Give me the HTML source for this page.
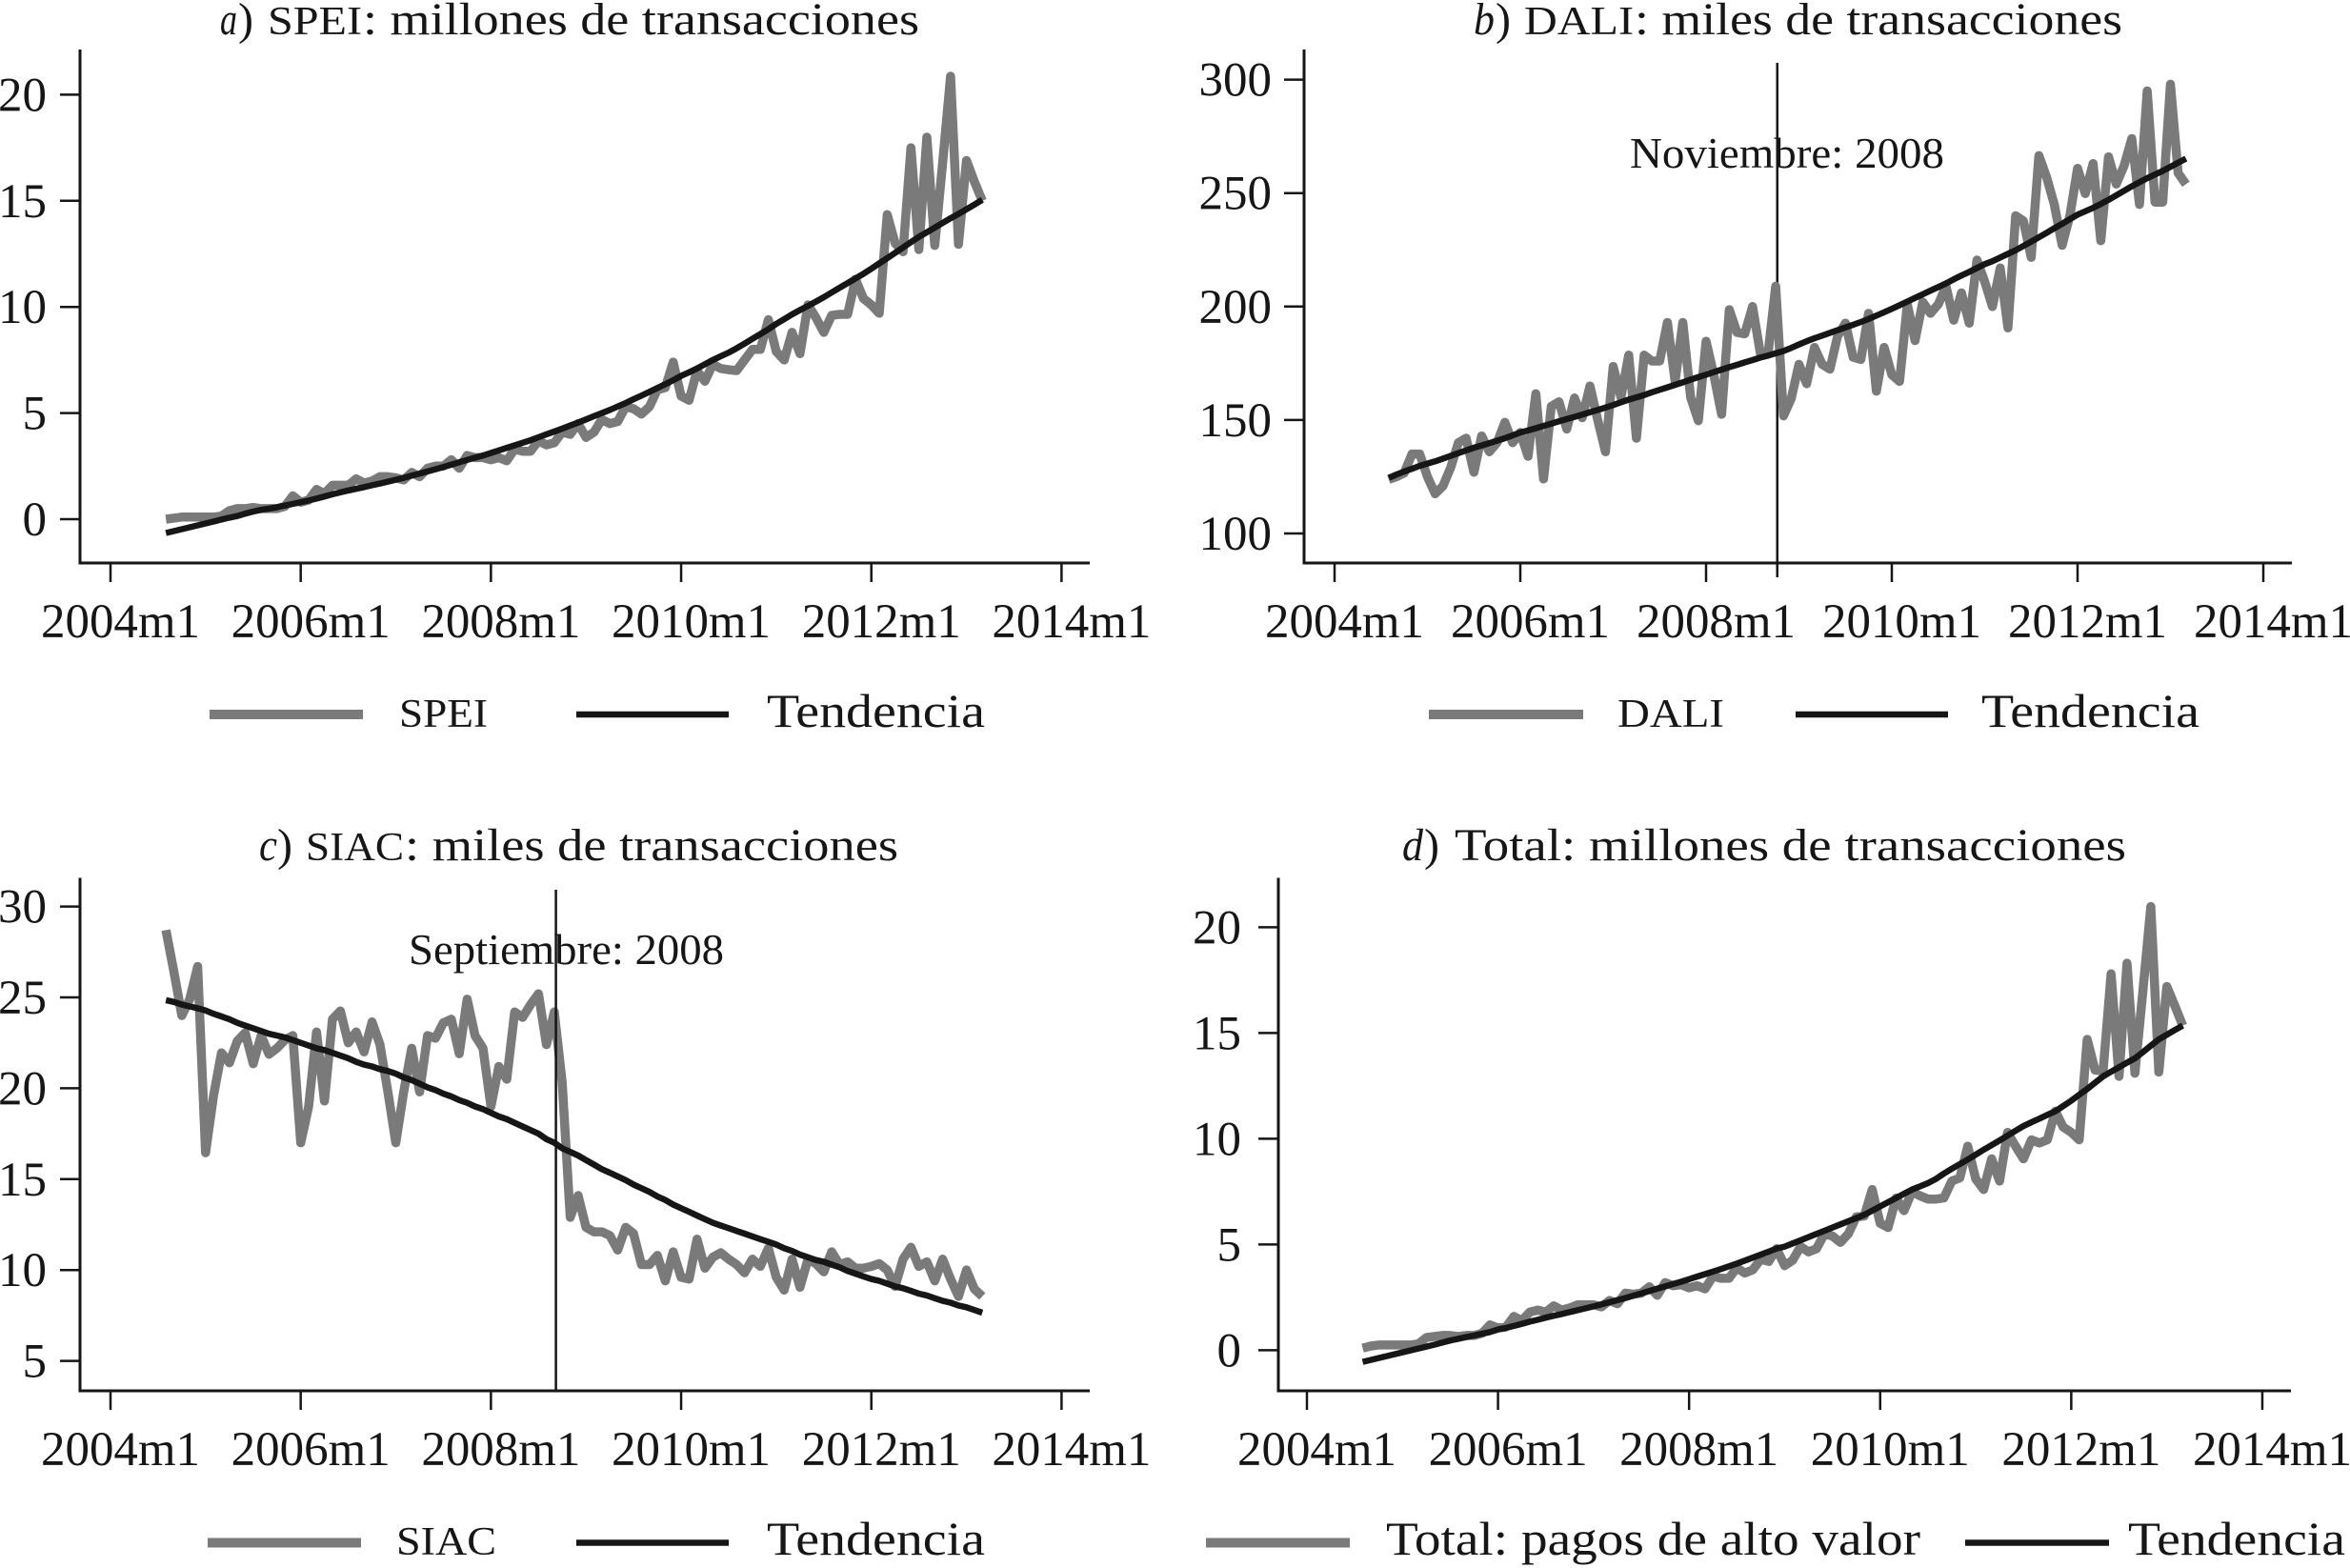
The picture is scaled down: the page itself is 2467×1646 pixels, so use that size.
<!DOCTYPE html>
<html lang="es">
<head>
<meta charset="utf-8">
<title>Transacciones de pagos de alto valor</title>
<style>
html,body{margin:0;padding:0;background:#fff;}
svg{display:block;}
text{font-family:"Liberation Serif",serif;fill:#161616;}
.t{font-size:48px;}
.s{font-size:42px;}
.l{font-size:50px;}
.n{font-size:46px;}
.i{font-style:italic;}
</style>
</head>
<body>
<svg id="chart" width="2467" height="1646" viewBox="0 0 2467 1646" xmlns="http://www.w3.org/2000/svg">
<rect width="2467" height="1646" fill="#fff"/>

<g>
<text class="t i" x="231" y="36" textLength="18" lengthAdjust="spacingAndGlyphs">a</text><text class="t" x="250" y="36">)</text>
<text class="s" x="281" y="36" textLength="99" lengthAdjust="spacingAndGlyphs">SPEI</text>
<text class="t" x="381" y="36" textLength="584" lengthAdjust="spacingAndGlyphs">: millones de transacciones</text>
</g>
<g>
<text class="t i" x="1547" y="36" textLength="22" lengthAdjust="spacingAndGlyphs">b</text><text class="t" x="1570" y="36">)</text>
<text class="s" x="1600" y="36" textLength="115" lengthAdjust="spacingAndGlyphs">DALI</text>
<text class="t" x="1716" y="36" textLength="512" lengthAdjust="spacingAndGlyphs">: miles de transacciones</text>
</g>
<g>
<text class="t i" x="272" y="903" textLength="19" lengthAdjust="spacingAndGlyphs">c</text><text class="t" x="291" y="903">)</text>
<text class="s" x="321" y="903" textLength="103" lengthAdjust="spacingAndGlyphs">SIAC</text>
<text class="t" x="425" y="903" textLength="518" lengthAdjust="spacingAndGlyphs">: miles de transacciones</text>
</g>
<g>
<text class="t i" x="1472" y="903" textLength="22" lengthAdjust="spacingAndGlyphs">d</text><text class="t" x="1495" y="903">)</text>
<text class="t" x="1527" y="903" textLength="705" lengthAdjust="spacingAndGlyphs">Total: millones de transacciones</text>
</g>

<text class="n" x="1711" y="176" textLength="330" lengthAdjust="spacingAndGlyphs">Noviembre: 2008</text>
<text class="n" x="429" y="1012" textLength="331" lengthAdjust="spacingAndGlyphs">Septiembre: 2008</text>

<g id="plots"></g>

<g>
<line x1="220" x2="381" y1="750" y2="750" stroke="#7a7a7a" stroke-width="10"/>
<text class="s" x="419" y="763" textLength="93" lengthAdjust="spacingAndGlyphs">SPEI</text>
<line x1="605" x2="765" y1="750" y2="750" stroke="#161616" stroke-width="6.5"/>
<text class="l" x="805" y="763" textLength="229" lengthAdjust="spacingAndGlyphs">Tendencia</text>
</g>
<g>
<line x1="1500" x2="1662" y1="750" y2="750" stroke="#7a7a7a" stroke-width="10"/>
<text class="s" x="1698" y="763" textLength="112" lengthAdjust="spacingAndGlyphs">DALI</text>
<line x1="1885" x2="2045" y1="750" y2="750" stroke="#161616" stroke-width="6.5"/>
<text class="l" x="2080" y="763" textLength="229" lengthAdjust="spacingAndGlyphs">Tendencia</text>
</g>
<g>
<line x1="218" x2="379" y1="1619.5" y2="1619.5" stroke="#7a7a7a" stroke-width="10"/>
<text class="s" x="416" y="1632" textLength="105" lengthAdjust="spacingAndGlyphs">SIAC</text>
<line x1="605" x2="765" y1="1619.5" y2="1619.5" stroke="#161616" stroke-width="6.5"/>
<text class="l" x="805" y="1632" textLength="229" lengthAdjust="spacingAndGlyphs">Tendencia</text>
</g>
<g>
<line x1="1266" x2="1417" y1="1619.5" y2="1619.5" stroke="#7a7a7a" stroke-width="10"/>
<text class="l" x="1455" y="1632" textLength="561" lengthAdjust="spacingAndGlyphs">Total: pagos de alto valor</text>
<line x1="2063" x2="2214" y1="1619.5" y2="1619.5" stroke="#161616" stroke-width="6.5"/>
<text class="l" x="2234" y="1632" textLength="228" lengthAdjust="spacingAndGlyphs">Tendencia</text>
</g>
</svg>

<script>
// Months elapsed since 2004m1 (2004m8 = 7 ... 2013m3 = 110)
const months = [7,8,9,10,11,12,13,14,15,16,17,18,19,20,21,22,23,24,25,26,27,28,29,30,31,32,33,34,35,36,37,38,39,40,41,42,43,44,45,46,47,48,49,50,51,52,53,54,55,56,57,58,59,60,61,62,63,64,65,66,67,68,69,70,71,72,73,74,75,76,77,78,79,80,81,82,83,84,85,86,87,88,89,90,91,92,93,94,95,96,97,98,99,100,101,102,103,104,105,106,107,108,109,110];
const xTickMonths = [0,24,48,72,96,120];
const xTickLabels = ["2004m1","2006m1","2008m1","2010m1","2012m1","2014m1"];

const speiValues = [0,0.05,0.1,0.1,0.1,
0.1,0.1,0.15,0.4,0.5,0.5,0.55,0.5,
0.5,0.5,0.6,1.1,0.8,0.9,1.4,1.2,1.6,1.6,
1.6,1.9,1.7,1.8,2.0,2.0,1.95,1.85,2.2,2.0,
2.4,2.5,2.5,2.8,2.4,3.0,2.9,2.9,2.8,2.9,
2.75,3.3,3.2,3.2,3.7,3.5,3.6,4.1,4.0,4.5,
3.85,4.1,4.7,4.5,4.6,5.3,5.2,4.95,5.3,6.1,
6.2,7.4,5.8,5.6,7.0,6.5,7.3,7.1,7.04,7.0,
7.5,8.0,8.0,9.4,7.9,7.5,8.8,7.8,10.1,9.5,
8.8,9.6,9.65,9.65,11.3,10.4,10.1,9.7,14.35,13.0,
12.6,17.5,12.7,18.0,12.9,16.8,20.87,12.95,16.9,15.9,
15.0];
const speiTrend = [-0.65,-0.56,-0.47,-0.38,-0.29,
-0.2,-0.11,-0.02,0.07,0.15,0.26,0.36,0.44,
0.5,0.56,0.64,0.72,0.8,0.88,0.97,1.07,1.17,1.26,
1.35,1.43,1.51,1.6,1.68,1.77,1.86,1.95,2.05,2.15,
2.25,2.35,2.46,2.57,2.68,2.79,2.9,3.0,3.12,3.24,
3.36,3.48,3.6,3.72,3.86,4.0,4.13,4.27,4.41,4.55,
4.7,4.85,5.0,5.15,5.31,5.47,5.65,5.82,6.0,6.18,
6.36,6.55,6.75,6.92,7.1,7.3,7.5,7.68,7.85,8.05,
8.27,8.5,8.72,8.95,9.2,9.42,9.65,9.85,10.05,10.25,
10.46,10.68,10.9,11.12,11.34,11.56,11.8,12.05,12.3,12.55,
12.8,13.05,13.3,13.52,13.74,13.96,14.18,14.38,14.6,14.82,
15.05];

const daliValues = [123.8,125,126.6,135,135,
125,117.5,120.9,129,140,142,127,143,
136,140,149,140,144.5,134,161.6,124,156,158,
146,159.7,151,165,150,136,173.6,160,178.6,142,
178.6,176,176,193,167,193,160,149.7,184.7,170,
152.5,198.6,188.6,188,200,179.6,179,209,151.8,159.5,
174.5,166,182,174.5,172.4,187,192.7,177.7,176.7,197,
162.7,182,170,167,201,185,202,197,201,209,
194,206,192.7,220.5,211,200,217,190.6,240,237.8,
221.7,266.5,257,244.9,227,240,260.9,249.8,263,229,
266,254,262,274,245,295,246,246,298,258.8,
253.9];
const daliTrend = [124.5,126,127.3,128.5,129.8,
130.8,131.8,133,134.2,135.4,136.6,137.8,138.8,
139.8,140.9,142,143.2,144.5,145.4,146.4,147.4,148.4,149.4,
150.4,151.4,152.4,153.4,154.4,155.5,156.6,157.8,159,160,
161,162.2,163.3,164.4,165.5,166.6,167.8,168.9,170,171.1,
172.2,173.3,174.3,175.4,176.4,177.5,178.4,179.4,180.4,181.8,
183.3,184.7,186,187.2,188.4,189.6,190.8,192,193.2,194.5,
196,197.5,199,200.6,202.2,203.8,205.4,207,208.6,210.2,
212,213.7,215.3,217,218.7,220,221.6,223.2,224.8,226.7,
228.6,230.5,232.5,234.5,236.5,238.5,240.5,242,243.5,245.2,
247,249,251,253,254.8,256.6,258.2,259.8,261.6,263.4,
265.2];

const siacValues = [28.7,26.4,24.0,24.9,26.7,
16.45,19.6,21.95,21.4,22.6,23.05,21.35,22.9,
21.87,22.2,22.65,22.9,17,19,23.1,19.3,23.8,24.25,
22.5,23.1,22,23.65,22.4,19.8,17,19.8,22.2,19.8,
22.9,22.75,23.6,23.8,21.9,24.9,22.9,22.2,19,21.2,
20.5,24.2,23.9,24.6,25.2,22.4,24.2,20.3,12.9,14.1,
12.35,12.1,12.1,11.9,11.1,12.35,12,10.3,10.3,10.8,
9.4,11,9.6,9.5,11.7,10.1,10.7,10.95,10.6,10.3,
9.85,10.6,10.2,11.2,9.6,8.9,10.6,9.05,10.6,10.35,
9.9,11,10.3,10.45,10.1,10.1,10.2,10.35,10,9.1,
10.6,11.25,10.2,10.45,9.4,10.6,9.5,8.55,10,8.95,
8.55];
const siacTrend = [24.85,24.75,24.6,24.5,24.4,
24.28,24.1,23.95,23.8,23.6,23.45,23.3,23.15,
23,22.9,22.8,22.65,22.5,22.35,22.2,22.1,21.95,21.8,
21.65,21.45,21.3,21.2,21.05,20.95,20.8,20.6,20.45,20.25,
20.05,19.9,19.7,19.55,19.35,19.2,19,18.85,18.65,18.45,
18.3,18.1,17.9,17.7,17.5,17.2,17,16.7,16.5,16.3,
16.05,15.8,15.55,15.35,15.15,14.95,14.7,14.5,14.3,14.05,
13.85,13.6,13.4,13.2,13,12.8,12.6,12.45,12.3,12.15,
12,11.85,11.7,11.55,11.4,11.2,11.05,10.85,10.7,10.55,
10.45,10.3,10.15,9.95,9.8,9.65,9.5,9.4,9.25,9.1,
9,8.85,8.7,8.6,8.45,8.3,8.2,8.05,7.95,7.8,
7.65];

const totalValues = [0.1,0.2,0.25,0.25,0.25,
0.25,0.25,0.3,0.6,0.65,0.7,0.7,0.65,
0.7,0.7,0.8,1.2,1.05,1.1,1.6,1.4,1.8,1.9,
1.8,2.1,1.9,2.0,2.15,2.15,2.15,2.05,2.35,2.2,
2.7,2.65,2.7,3.0,2.6,3.2,3.05,3.1,2.95,3.05,
2.9,3.5,3.4,3.4,3.9,3.65,3.8,4.3,4.2,4.8,
4.0,4.25,4.9,4.65,4.8,5.5,5.4,5.1,5.5,6.3,
6.35,7.6,6.0,5.8,7.2,6.6,7.5,7.3,7.15,7.15,
7.2,8.0,8.15,9.65,8.1,7.6,9.05,8.0,10.3,9.65,
9.05,9.95,9.8,9.95,11.3,10.55,10.3,9.95,14.7,13.25,
13.2,17.8,12.95,18.3,13.1,17,20.98,13.15,17.2,16.3,
15.35];
const totalTrend = [-0.55,-0.46,-0.37,-0.28,-0.19,
-0.1,-0.01,0.08,0.17,0.26,0.36,0.46,0.54,
0.62,0.7,0.78,0.86,0.98,1.06,1.15,1.25,1.35,1.44,
1.54,1.63,1.71,1.8,1.89,1.98,2.07,2.17,2.27,2.37,
2.47,2.58,2.69,2.8,2.91,3.02,3.13,3.24,3.36,3.48,
3.6,3.72,3.84,3.97,4.1,4.24,4.38,4.52,4.66,4.81,
4.9,5.05,5.2,5.35,5.5,5.65,5.8,5.95,6.1,6.25,
6.4,6.6,6.8,7.0,7.2,7.4,7.6,7.75,7.9,8.1,
8.35,8.58,8.8,9.02,9.25,9.48,9.7,9.92,10.15,10.38,
10.6,10.78,10.95,11.13,11.3,11.55,11.8,12.08,12.35,12.65,
12.95,13.17,13.38,13.6,13.8,14.1,14.4,14.7,14.92,15.14,
15.35];

const speiYTicks = [0,5,10,15,20];
const daliYTicks = [100,150,200,250,300];
const siacYTicks = [5,10,15,20,25,30];
const totalYTicks = [0,5,10,15,20];

const daliBreakMonth = [57.2];
const siacBreakMonth = [56.2];

const NS = "http://www.w3.org/2000/svg";
const plots = document.getElementById("plots");

function make(parent, tag, attrs, text) {
  const el = document.createElementNS(NS, tag);
  for (const k in attrs) el.setAttribute(k, attrs[k]);
  if (text !== undefined) el.textContent = text;
  parent.appendChild(el);
  return el;
}

function drawPanel(cfg) {
  const xScale = m => cfg.tick0 + cfg.monthPx * m;
  const yScale = v => cfg.refY - (v - cfg.refValue) * cfg.unitPx;
  const group = make(plots, "g", {});
  
  

  const yAxis = make(group, "line", {x1: cfg.axisX, x2: cfg.axisX, y1: cfg.top, y2: cfg.bottom + 1.5, stroke: "#161616", "stroke-width": 3});
  
  
  const xAxis = make(group, "line", {x1: cfg.axisX - 1.5, x2: cfg.right, y1: cfg.bottom, y2: cfg.bottom, stroke: "#161616", "stroke-width": 3});
  
  

  cfg.yTicks.forEach(v => {
    const tick = make(group, "line", {x1: cfg.axisX - 21, x2: cfg.axisX, y1: yScale(v), y2: yScale(v), stroke: "#161616", "stroke-width": 2.5});
    
    
    const label = make(group, "text", {x: cfg.yLabelRight, y: yScale(v) + 17, "text-anchor": "end", "font-size": 51}, String(v));
    
    
  });

  xTickMonths.forEach((m, i) => {
    const tick = make(group, "line", {x1: xScale(m), x2: xScale(m), y1: cfg.bottom, y2: cfg.bottom + 20, stroke: "#161616", "stroke-width": 2.5});
    
    
    const label = make(group, "text", {x: xScale(m) - 73, y: cfg.bottom + 78, "font-size": 51, textLength: 167, lengthAdjust: "spacingAndGlyphs"}, xTickLabels[i]);
    
    
  });

  const drawBreak = () => {
    cfg.breakMonth.forEach(m => {
      const vline = make(group, "line", {x1: xScale(m), x2: xScale(m), y1: cfg.breakTop, y2: cfg.breakBottom, stroke: "#161616", "stroke-width": 2.5});
      
      
    });
  };
  if (cfg.breakMonth && !cfg.breakOnTop) drawBreak();

  const seriesPts = months.map((m, i) => xScale(m).toFixed(1) + "," + yScale(cfg.values[i]).toFixed(1)).join(" ");
  const series = make(group, "polyline", {points: seriesPts, fill: "none", stroke: "#7a7a7a", "stroke-width": 9.5, "stroke-linejoin": "round"});
  
  

  if (cfg.breakMonth && cfg.breakOnTop) drawBreak();

  const trendPts = months.map((m, i) => xScale(m).toFixed(1) + "," + yScale(cfg.trend[i]).toFixed(1)).join(" ");
  const trend = make(group, "polyline", {points: trendPts, fill: "none", stroke: "#161616", "stroke-width": 6.5, "stroke-linejoin": "round"});
  
  
}

drawPanel({key: "spei", values: speiValues, trend: speiTrend, yTicks: speiYTicks,
  tick0: 116, monthPx: 8.32, refValue: 0, refY: 545, unitPx: 22.28,
  axisX: 84, top: 52, bottom: 591, right: 1144, yLabelRight: 49});
drawPanel({key: "dali", values: daliValues, trend: daliTrend, yTicks: daliYTicks,
  tick0: 1401, monthPx: 8.125, refValue: 100, refY: 560, unitPx: 2.382,
  axisX: 1369, top: 52, bottom: 591, right: 2406, yLabelRight: 1335,
  breakMonth: daliBreakMonth, breakTop: 66, breakBottom: 606, breakOnTop: false});
drawPanel({key: "siac", values: siacValues, trend: siacTrend, yTicks: siacYTicks,
  tick0: 116, monthPx: 8.32, refValue: 5, refY: 1428.6, unitPx: 19.08,
  axisX: 84, top: 921.5, bottom: 1460, right: 1144, yLabelRight: 49,
  breakMonth: siacBreakMonth, breakTop: 934, breakBottom: 1460, breakOnTop: true});
drawPanel({key: "total", values: totalValues, trend: totalTrend, yTicks: totalYTicks,
  tick0: 1372, monthPx: 8.358, refValue: 0, refY: 1417.4, unitPx: 22.2,
  axisX: 1342, top: 921.5, bottom: 1460, right: 2405, yLabelRight: 1303});
</script>
</body>
</html>
